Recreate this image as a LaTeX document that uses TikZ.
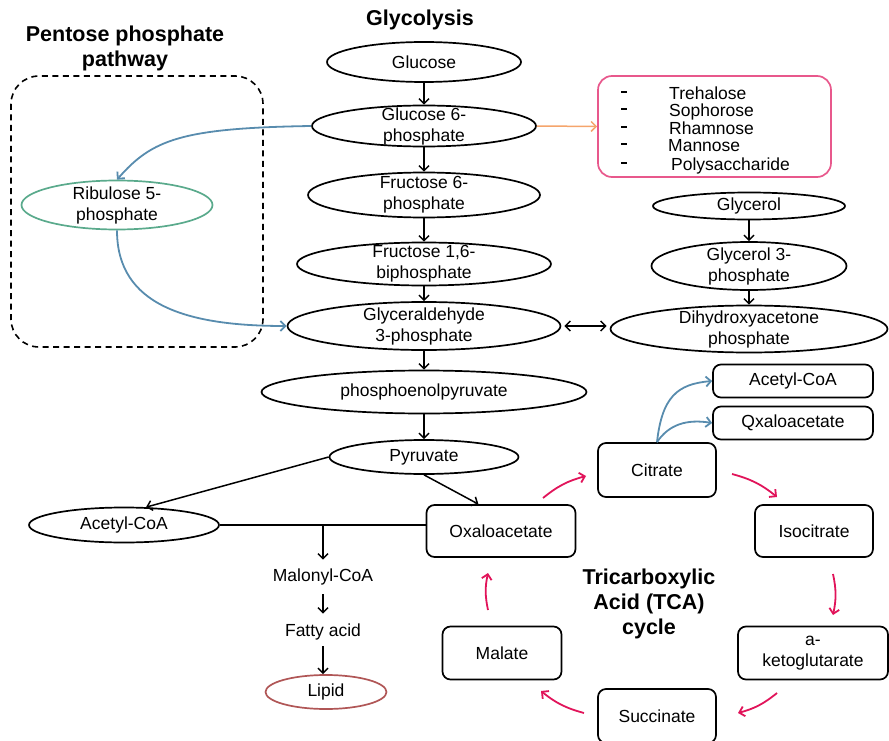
\documentclass[tikz,border=0pt]{standalone}
\usepackage{fontspec}
\setmainfont{Liberation Sans}
\usepackage{tikz}
\usetikzlibrary{shapes}
\usetikzlibrary{arrows.meta}
\usetikzlibrary{calc}
\usetikzlibrary{positioning}

\definecolor{pathblue}{RGB}{88,140,174}
\definecolor{ribgreen}{RGB}{90,170,140}
\definecolor{lipidred}{RGB}{176,86,86}
\definecolor{sugpink}{RGB}{232,88,140}
\definecolor{sugorange}{RGB}{245,165,108}
\definecolor{tcapink}{RGB}{225,20,90}

\begin{document}
\begin{tikzpicture}[x=1pt, y=-1pt,
    txt/.style={font=\fontsize{17.5}{21}\selectfont, align=center, inner sep=0pt},
    title/.style={font=\fontsize{21.5}{25}\selectfont\bfseries, align=center},
    metab/.style={txt, draw, ellipse, line width=1.7pt, inner xsep=0pt, inner ysep=-6pt},
    tcabox/.style={txt, draw, rounded corners=8pt, line width=1.7pt},
    sugitem/.style={txt, anchor=west, text height=11pt, text depth=2pt},
    barb/.style={-{Straight Barb[length=5pt, width=10pt]}},
    flow/.style={barb, line width=1.5pt},
    blueflow/.style={barb, line width=1.8pt, draw=pathblue},
    pinkflow/.style={barb, line width=1.8pt, draw=tcapink}]
      \path[use as bounding box] (0, 0) rectangle (889, 741);

      \node[title] (ppptitle) at (125, 48) {Pentose phosphate\\pathway};
      \node[title] (glytitle) at (420, 20) {Glycolysis};
      \node[title] (tcatitle) at (649, 604) {Tricarboxylic\\Acid (TCA)\\cycle};

      \draw[line width=1.6pt, dash pattern=on 6pt off 4.5pt, rounded corners=28pt] (11, 76) rectangle (263, 347);

      \node[metab, minimum width=194pt, minimum height=40pt] (glc) at (424, 62) {Glucose};
      \node[metab, minimum width=224pt, minimum height=41pt] (g6p) at (424, 126) {Glucose 6-\\phosphate};
      \node[metab, minimum width=232pt, minimum height=45pt] (f6p) at (424, 195) {Fructose 6-\\phosphate};
      \node[metab, minimum width=254pt, minimum height=43pt] (fbp) at (424, 264) {Fructose 1,6-\\biphosphate};
      \node[metab, minimum width=273pt, minimum height=48pt] (gap) at (424, 326) {Glyceraldehyde\\3-phosphate};
      \node[metab, minimum width=325pt, minimum height=43pt] (pep) at (424, 392) {phosphoenolpyruvate};
      \node[metab, minimum width=189pt, minimum height=34pt] (pyr) at (424, 457) {Pyruvate};
      \node[metab, minimum width=190pt, minimum height=35pt] (acoa) at (124, 525) {Acetyl-CoA};
      \node[txt] (mcoa) at (323, 577) {Malonyl-CoA};
      \node[txt] (fa) at (323, 632) {Fatty acid};
      \node[metab, draw=lipidred, minimum width=121pt, minimum height=34pt] (lip) at (326, 692) {Lipid};
      \node[metab, draw=ribgreen, minimum width=191pt, minimum height=49pt] (ru5p) at (117, 205) {Ribulose 5-\\phosphate};
      \node[metab, minimum width=192pt, minimum height=27pt] (gly) at (749, 206) {Glycerol};
      \node[metab, minimum width=195pt, minimum height=48pt] (g3p) at (749, 266) {Glycerol 3-\\phosphate};
      \node[metab, minimum width=277pt, minimum height=47pt] (dhap) at (749, 329) {Dihydroxyacetone\\phosphate};

      \node[draw=sugpink, line width=1.7pt, rounded corners=14pt, minimum width=233pt, minimum height=101pt] (sug) at (714.5, 126.5) {};
      \foreach \y/\xx/\sugar in {93/669/Trehalose, 110/669/Sophorose, 128/669/Rhamnose, 145/668/Mannose, 164/671/Polysaccharide} {
        \draw[line width=2.7pt] (621, \y - 1) -- +(6, 0);
        \node[sugitem] at (\xx, \y + 2) {\sugar};
      }

      \node[tcabox, minimum width=160pt, minimum height=33pt] (acoa2) at (793, 381) {Acetyl-CoA};
      \node[tcabox, minimum width=160pt, minimum height=33pt] (oaa2) at (793, 423) {Qxaloacetate};
      \node[tcabox, minimum width=118pt, minimum height=54pt] (cit) at (657, 470) {Citrate};
      \node[tcabox, minimum width=118pt, minimum height=52pt] (icit) at (814, 531) {Isocitrate};
      \node[tcabox, minimum width=150pt, minimum height=53pt] (akg) at (813, 653) {a-\\ketoglutarate};
      \node[tcabox, minimum width=118pt, minimum height=54pt] (suc) at (657, 716) {Succinate};
      \node[tcabox, minimum width=119pt, minimum height=53pt] (mal) at (502, 653) {Malate};
      \node[tcabox, minimum width=149pt, minimum height=52pt] (oaa) at (501, 531) {Oxaloacetate};

      \draw[flow] (glc.south) -- (g6p.north);
      \draw[flow] (g6p.south) -- (f6p.north);
      \draw[flow] (f6p.south) -- (fbp.north);
      \draw[flow] (fbp.south) -- (gap.north);
      \draw[flow] (gap.south) -- (pep.north);
      \draw[flow] (pep.south) -- (pyr.north);
      \draw[flow] (gly.south) -- (g3p.north);
      \draw[flow] (g3p.south) -- (dhap.north);
      \draw[flow, {Straight Barb[length=5pt, width=10pt]}-{Straight Barb[length=5pt, width=10pt]}, shorten <=3pt, shorten >=3pt] (gap.east) -- (gap.east -| dhap.west);
      \draw[flow, draw=sugorange] (g6p.east) -- (sug.west);

      \draw[blueflow] (g6p.west) .. controls +(-130, 2) and +(35, -40) .. (ru5p.north);
      \draw[blueflow] (ru5p.south) .. controls +(0, 75) and +(-100, 0) .. (gap.west);

      \draw[flow] (pyr.west) -- (acoa.39);
      \draw[flow] (pyr.south) -- ($(oaa.north)!0.3!(oaa.north west)$);
      \draw[line width=1.5pt] (acoa.east) -- (acoa.east -| oaa.west);
      \coordinate (fork) at (acoa.east -| mcoa.north);
      \draw[flow, shorten >=9pt] (fork) -- (mcoa.north);
      \draw[flow, shorten <=9pt, shorten >=10pt] (mcoa.south) -- (fa.north);
      \draw[flow, shorten <=6pt] (fa.south) -- (fa.south |- lip.north);

      \draw[blueflow] (cit.north) .. controls +(5, -45) and +(-35, 3) .. (acoa2.west);
      \draw[blueflow] (cit.north) .. controls +(12, -18) and +(-25, -4) .. (oaa2.west);

      \coordinate (oc1) at (543, 498);
      \coordinate (oc2) at (586, 476);
      \coordinate (ci1) at (732, 474);
      \coordinate (ci2) at (777, 497);
      \coordinate (ia1) at (833, 574);
      \coordinate (ia2) at (833, 615);
      \coordinate (as1) at (777, 693);
      \coordinate (as2) at (738, 713);
      \coordinate (sm1) at (584, 713);
      \coordinate (sm2) at (541, 691);
      \coordinate (mo1) at (488, 610);
      \coordinate (mo2) at (488, 573);
      \draw[pinkflow] (oc1) to[bend left=12] (oc2);
      \draw[pinkflow] (ci1) to[bend left=12] (ci2);
      \draw[pinkflow] (ia1) to[bend left=12] (ia2);
      \draw[pinkflow] (as1) to[bend left=12] (as2);
      \draw[pinkflow] (sm1) to[bend left=12] (sm2);
      \draw[pinkflow] (mo1) to[bend left=12] (mo2);
    \end{tikzpicture}
\end{document}
